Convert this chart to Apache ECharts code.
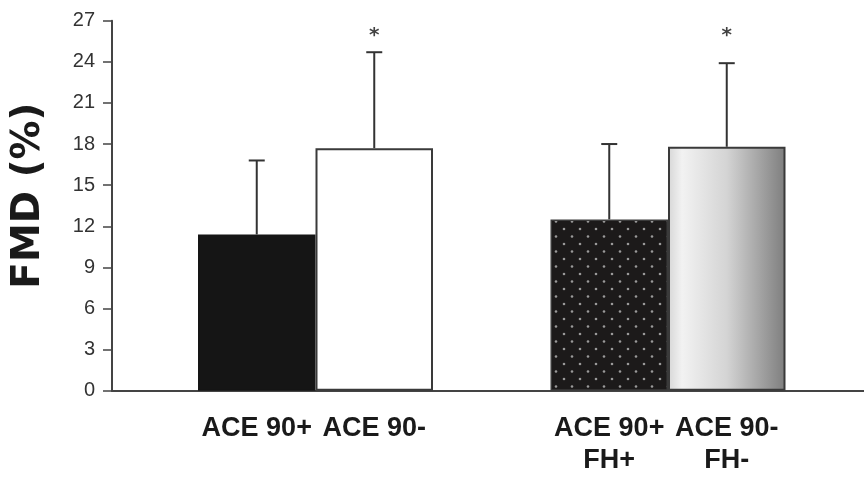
<!DOCTYPE html>
<html><head><meta charset="utf-8">
<script src="https://cdn.jsdelivr.net/npm/echarts@6/dist/echarts.min.js"></script>
<style>html,body{margin:0;padding:0;background:#fff}#c{width:864px;height:481px}</style>
</head><body><div id="c"></div>
<script>
var categories = ['ACE 90+', 'ACE 90-', '', 'ACE 90+\nFH+', 'ACE 90-\nFH-'];
var means = [11.4, 17.7, null, 12.5, 17.8];
var upperSD = [16.8, 24.7, null, 18.0, 23.9];
var significant = [false, true, false, false, true];
var yTicks = { min: 0, max: 27, interval: 3 };

// dotted pattern tile
var tile = document.createElement('canvas');
tile.width = 16; tile.height = 15;
var tc = tile.getContext('2d');
tc.fillStyle = '#1c1a1a'; tc.fillRect(0, 0, 16, 15);
tc.fillStyle = '#9a9a9a';
tc.beginPath(); tc.arc(4, 4, 1.3, 0, Math.PI * 2); tc.fill();
tc.beginPath(); tc.arc(12, 11.5, 1.3, 0, Math.PI * 2); tc.fill();
var tileURL = tile.toDataURL();

var styles = [
  { color: '#151515', borderColor: '#151515', borderWidth: 1.5 },
  { color: '#ffffff', borderColor: '#3a3a3a', borderWidth: 2 },
  {},
  { color: { image: tileURL, repeat: 'repeat' }, borderColor: '#3a3a3a', borderWidth: 1.5 },
  { color: { type: 'linear', x: 0, y: 0, x2: 1, y2: 0, colorStops: [
      { offset: 0, color: '#d6d6d6' }, { offset: 0.12, color: '#f2f2f2' },
      { offset: 0.5, color: '#d4d4d4' }, { offset: 1, color: '#7e7e7e' }] },
    borderColor: '#3a3a3a', borderWidth: 2 }
];

var barData = means.map(function (v, i) {
  return v == null ? '-' : { value: v, itemStyle: styles[i] };
});
var errData = [];
means.forEach(function (v, i) { if (v != null) errData.push([i, v, upperSD[i]]); });
var starData = [];
significant.forEach(function (s, i) { if (s) starData.push([i, 25.9]); });

var chart = echarts.init(document.getElementById('c'));
var gTop = 20.7, gBottom = 90.3;
chart.setOption({
  animation: false,
  grid: [
    { left: 112, right: 0, top: gTop, bottom: gBottom, outerBoundsMode: 'none', containLabel: false },
    { left: 198, width: 587.5, top: gTop, bottom: gBottom, outerBoundsMode: 'none', containLabel: false }
  ],
  xAxis: [
    { gridIndex: 0, type: 'category', data: [''],
      axisLine: { lineStyle: { color: '#444', width: 2 } },
      axisTick: { show: false }, axisLabel: { show: false } },
    { gridIndex: 1, type: 'category', data: categories,
      axisLine: { show: false }, axisTick: { show: false },
      axisLabel: { interval: 0, margin: 22, color: '#1a1a1a', fontFamily: 'Liberation Sans',
        fontWeight: 'bold', fontSize: 27, lineHeight: 32 } }
  ],
  yAxis: [
    { gridIndex: 0, type: 'value', min: yTicks.min, max: yTicks.max, interval: yTicks.interval,
      name: 'FMD (%)', nameLocation: 'middle', nameGap: 64, nameRotate: 90,
      nameTextStyle: { fontFamily: 'DejaVu Sans', fontWeight: 'bold', fontSize: 39, color: '#1a1a1a', padding: [0, 0, 0, 20] },
      axisLine: { show: true, lineStyle: { color: '#444', width: 2 } },
      axisTick: { show: true, length: 9, lineStyle: { color: '#444', width: 1.5 } },
      axisLabel: { margin: 17, color: '#333', fontFamily: 'Liberation Sans', fontSize: 20 },
      splitLine: { show: false } },
    { gridIndex: 1, type: 'value', min: yTicks.min, max: yTicks.max, interval: yTicks.interval, show: false,
      splitLine: { show: false } }
  ],
  series: [
    { type: 'bar', xAxisIndex: 1, yAxisIndex: 1, data: barData, barWidth: '100%', barGap: '0%' },
    { type: 'custom', xAxisIndex: 1, yAxisIndex: 1, data: errData, z: 5,
      renderItem: function (params, api) {
        var x = api.value(0);
        var p0 = api.coord([x, api.value(1)]);
        var p1 = api.coord([x, api.value(2)]);
        var st = { stroke: '#333', lineWidth: 2 };
        return { type: 'group', children: [
          { type: 'line', shape: { x1: p0[0], y1: p0[1], x2: p1[0], y2: p1[1] }, style: st },
          { type: 'line', shape: { x1: p1[0] - 8, y1: p1[1], x2: p1[0] + 8, y2: p1[1] }, style: st }
        ] };
      } },
    { type: 'scatter', xAxisIndex: 1, yAxisIndex: 1, data: starData, symbolSize: 0,
      label: { show: true, position: 'inside', formatter: '*', fontFamily: 'DejaVu Sans',
        fontWeight: 'bold', fontSize: 20, color: '#111' } }
  ]
});
</script></body></html>
